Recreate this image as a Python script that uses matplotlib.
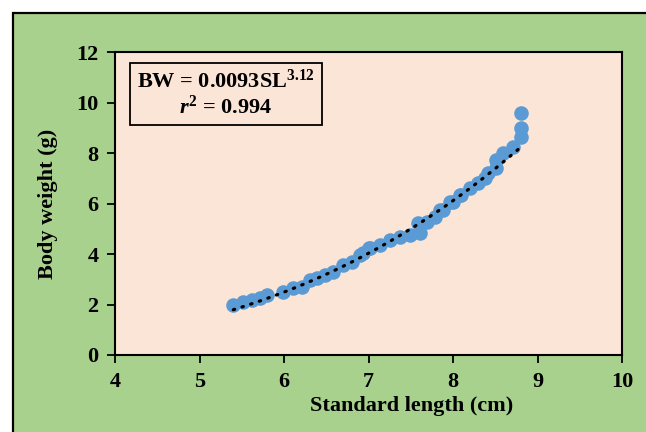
import numpy as np
import matplotlib
matplotlib.use("Agg")
import matplotlib.pyplot as plt
from matplotlib.patches import Rectangle

# Data
sl = [5.40, 5.52, 5.62, 5.72, 5.80, 5.99, 6.11, 6.21, 6.31, 6.39, 6.49, 6.58,
      6.70, 6.80, 6.90, 6.94, 7.00, 7.02, 7.14, 7.25, 7.37, 7.49, 7.59, 7.61,
      7.69, 7.79, 7.85, 7.88, 7.96, 8.00, 8.08, 8.10, 8.20, 8.30, 8.38, 8.42,
      8.51, 8.51, 8.59, 8.71, 8.80, 8.80, 8.80]
bw = [1.98, 2.11, 2.18, 2.26, 2.38, 2.51, 2.64, 2.71, 2.97, 3.04, 3.17, 3.30,
      3.56, 3.70, 3.96, 4.03, 4.22, 4.24, 4.36, 4.55, 4.69, 4.75, 5.22, 4.83,
      5.28, 5.48, 5.74, 5.74, 6.07, 6.07, 6.33, 6.33, 6.62, 6.83, 7.00, 7.20,
      7.40, 7.72, 8.00, 8.25, 8.65, 8.99, 9.60]

# Power trendline coefficients shown on the chart
coef_a = 0.0093
coef_b = 3.12

x_ticks = [4, 5, 6, 7, 8, 9, 10]
y_ticks = [0, 2, 4, 6, 8, 10, 12]

plt.rcParams['font.family'] = ['Liberation Serif', 'DejaVu Serif']
plt.rcParams['font.weight'] = 'bold'
plt.rcParams['mathtext.fontset'] = 'custom'
plt.rcParams['mathtext.rm'] = 'Liberation Serif:bold'
plt.rcParams['mathtext.bf'] = 'Liberation Serif:bold'
plt.rcParams['mathtext.it'] = 'Liberation Serif:bold:italic'
plt.rcParams['mathtext.bfit'] = 'Liberation Serif:bold:italic'

fig = plt.figure(figsize=(6.46, 4.32), dpi=100)
fig.patch.set_facecolor('white')

W, H = 646, 432
green = Rectangle((13 / W, -0.1), 1.2, (H - 13) / H + 0.1,
                  transform=fig.transFigure, facecolor='#A9D18E',
                  edgecolor='black', linewidth=1.6, zorder=-10)
fig.patches.append(green)

ax = fig.add_axes([115 / W, (H - 355) / H, (622 - 115) / W, (355 - 52) / H])
ax.set_facecolor('#FBE5D6')

ax.scatter(sl, bw, s=110, color='#5B9BD5', zorder=3, linewidths=0)

xs = np.linspace(min(sl), max(sl), 200)
ax.plot(xs, coef_a * xs ** coef_b, color='black', linestyle=(0, (0.45, 2.4)),
        linewidth=2.3, dash_capstyle='round', zorder=4)

ax.set_xlim(4, 10)
ax.set_ylim(0, 12)
ax.set_xticks(x_ticks)
ax.set_yticks(y_ticks)
ax.tick_params(direction='out', length=6, width=1.3, labelsize=16, pad=6,
               colors='black')
for lab in ax.get_xticklabels() + ax.get_yticklabels():
    lab.set_fontweight('bold')
for sp in ax.spines.values():
    sp.set_linewidth(1.5)
    sp.set_color('black')

ax.set_xlabel('Standard length (cm)', fontsize=16, fontweight='bold')
ax.xaxis.set_label_coords((411.5 - 115) / 507, (355 - 396) / 303)
ax.set_ylabel('Body weight (g)', fontsize=16, fontweight='bold')
ax.yaxis.set_label_coords((58 - 115) / 507, 0.5)

ax.text(0.219, 0.861, 'BW = 0.0093SL$^{\\mathrm{3.12}}$\n$\\mathit{r}^{\\mathrm{2}}$ = 0.994',
        transform=ax.transAxes, ha='center', va='center', fontsize=16,
        fontweight='bold', linespacing=1.15,
        bbox=dict(boxstyle='square,pad=0.3', facecolor='#FBE5D6',
                  edgecolor='black', linewidth=1.3), zorder=5)

fig.savefig('out.png', dpi=100, facecolor='white')
